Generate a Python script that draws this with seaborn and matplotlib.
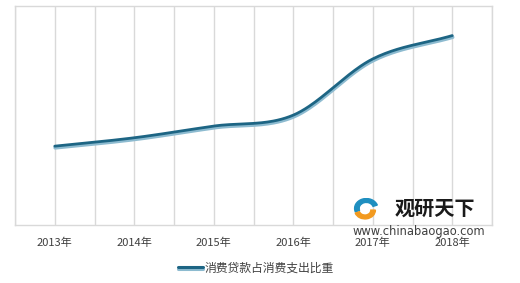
import numpy as np
import pandas as pd
import matplotlib
matplotlib.use("Agg")
import matplotlib.pyplot as plt
import matplotlib.patheffects as pe
import seaborn as sns

years = ["2013年", "2014年", "2015年", "2016年", "2017年", "2018年"]
values = [21.6, 23.9, 27.1, 30.1, 45.5, 51.9]
series_name = "消费贷款占消费支出比重"

sns.set_theme(style="white")
plt.rcParams['font.family'] = ['Noto Sans CJK SC', 'DejaVu Sans']

def catmull_rom(xs, ys, n=40):
    xs = np.asarray(xs, float); ys = np.asarray(ys, float)
    px = np.concatenate([[2*xs[0]-xs[1]], xs, [2*xs[-1]-xs[-2]]])
    py = np.concatenate([[2*ys[0]-ys[1]], ys, [2*ys[-1]-ys[-2]]])
    ox, oy = [], []
    for i in range(1, len(px)-2):
        t = np.linspace(0, 1, n, endpoint=(i == len(px)-3))
        for P, out in ((px, ox), (py, oy)):
            p0, p1, p2, p3 = P[i-1], P[i], P[i+1], P[i+2]
            out.extend(0.5*((2*p1) + (-p0+p2)*t + (2*p0-5*p1+4*p2-p3)*t**2 + (-p0+3*p1-3*p2+p3)*t**3))
    return np.array(ox), np.array(oy)

xi = np.arange(len(years))
sx, sy = catmull_rom(xi, values)
df = pd.DataFrame({"x": sx, "y": sy})

fig = plt.figure(figsize=(5.2, 2.83), dpi=100)
ax = fig.add_axes([15/520, 1-225/283, (492-15)/520, (225-6)/283])

sns.lineplot(data=df, x="x", y="y", ax=ax, color="#1D6584", linewidth=2.0,
             sort=False, legend=False, solid_capstyle="round",
             path_effects=[pe.SimpleLineShadow(offset=(0.3, -1.2), shadow_color="#8DBBD0",
                                               alpha=1, linewidth=2.6),
                           pe.Normal()])

ax.set_xlim(-0.5, len(years)-0.5)
ax.set_ylim(0, 60)
ax.set_xticks(xi)
ax.set_xticks(np.arange(-0.5, len(years), 0.5), minor=True)
ax.grid(False)
ax.xaxis.grid(True, which="both", color="#D9D9D9", linewidth=1)
ax.set_xticklabels(years, fontsize=8, color="#404040")
ax.tick_params(axis="x", which="both", length=0, pad=9)
ax.set_yticks([])
ax.set_xlabel(""); ax.set_ylabel("")
for s in ax.spines.values():
    s.set_color("#D9D9D9"); s.set_linewidth(1)

# legend
from matplotlib.lines import Line2D
h = Line2D([0], [0], color="#1D6584", linewidth=2.2,
           path_effects=[pe.SimpleLineShadow(offset=(0, -1), shadow_color="#8DBBD0", alpha=1),
                         pe.Normal()])
fig.legend([h], [series_name], loc="center", bbox_to_anchor=(256/520, 1-268/283),
           frameon=False, fontsize=8.5, handlelength=2.1, handletextpad=0.15,
           labelcolor="#404040")

# watermark
fig.text(395/520, 1-208/283, "观研天下", fontsize=14.5, fontweight="bold", color="#1a1a1a",
         va="center", ha="left")
fig.text(353/520, 1-231/283, "www.chinabaogao.com", fontsize=8.3, color="#404040",
         va="center", ha="left", family=["DejaVu Sans"])
from matplotlib.patches import Wedge
wax = fig.add_axes([352/520, 1-220/283, 26/520, 22/283])
wax.set_xlim(-1, 1); wax.set_ylim(-1, 1); wax.axis("off")
wax.add_patch(Wedge((0.1, 0.05), 0.9, 20, 200, width=0.35, color="#1F8FC0"))
wax.add_patch(Wedge((0.0, -0.1), 0.8, 200, 360, width=0.35, color="#F29A1F"))

fig.savefig("out.png", dpi=100)
